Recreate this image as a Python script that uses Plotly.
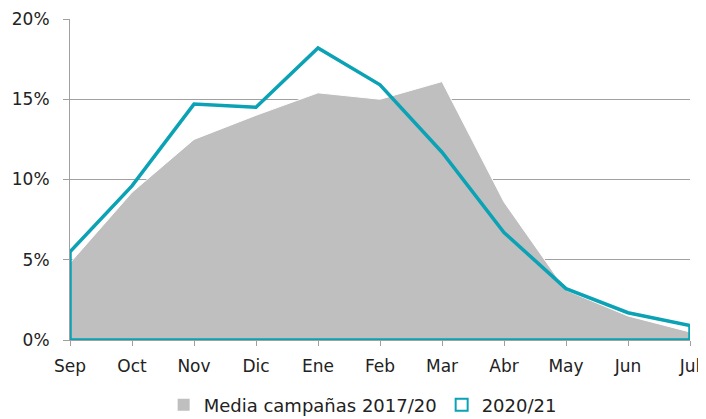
import plotly.graph_objects as go

months = ["Sep", "Oct", "Nov", "Dic", "Ene", "Feb", "Mar", "Abr", "May", "Jun", "Jul"]
media_2017_20 = [4.8, 9.2, 12.5, 14.0, 15.4, 15.0, 16.1, 8.6, 3.1, 1.5, 0.5]
camp_2020_21 = [5.5, 9.6, 14.7, 14.5, 18.2, 15.9, 11.7, 6.7, 3.2, 1.7, 0.9]

GRAY = "#BFBFBF"
TEAL = "#0AA2B4"
FONT = "DejaVu Sans"

xs = list(range(len(months)))

fig = go.Figure()

# gray area (average)
fig.add_trace(go.Scatter(
    x=xs, y=media_2017_20, mode="lines", fill="tozeroy",
    fillcolor=GRAY, line=dict(color="white", width=1),
    showlegend=False, hoverinfo="skip"))

# 2020/21 as an unfilled area outline (closed polygon)
poly_x = [xs[0]] + xs + [xs[-1], xs[0]]
poly_y = [0] + camp_2020_21 + [0, 0]
fig.add_trace(go.Scatter(
    x=poly_x, y=poly_y, mode="lines",
    line=dict(color=TEAL, width=3.5),
    showlegend=False, hoverinfo="skip"))

# legend entries
fig.add_trace(go.Scatter(
    x=[None], y=[None], mode="markers", name="Media campañas 2017/20",
    marker=dict(symbol="square", color=GRAY, size=12)))
fig.add_trace(go.Scatter(
    x=[None], y=[None], mode="markers", name="2020/21",
    marker=dict(symbol="square-open", color=TEAL, size=11, line=dict(width=3.5))))

# page has an 8px body margin, so the figure is sized to fit the window
fig.update_layout(
    width=698, height=411,
    margin=dict(l=62, r=16, t=11, b=79),
    paper_bgcolor="white", plot_bgcolor="white",
    font=dict(family=FONT, size=17, color="#222222"),
    legend=dict(orientation="h", x=0.472, xanchor="center",
                yref="container", y=0.034, yanchor="middle",
                font=dict(size=18), itemsizing="constant", traceorder="normal",
                itemwidth=30, tracegroupgap=0),
    xaxis=dict(
        range=[0, 10], tickmode="array", tickvals=xs, ticktext=months,
        showgrid=False, zeroline=False, showline=True, linecolor="#A0A0A0", linewidth=1,
        ticks="outside", ticklen=5, tickcolor="#A0A0A0", tickfont=dict(size=17),
        ticklabelstandoff=6, automargin=False),
    yaxis=dict(
        range=[0, 20], dtick=5, ticksuffix="%",
        showgrid=True, gridcolor="#A0A0A0", gridwidth=1,
        zeroline=False, showline=True, linecolor="#A0A0A0", linewidth=1,
        ticks="outside", ticklen=6, tickcolor="#A0A0A0", tickfont=dict(size=17),
        ticklabelstandoff=10, automargin=False),
)

fig.write_html("out.html")
